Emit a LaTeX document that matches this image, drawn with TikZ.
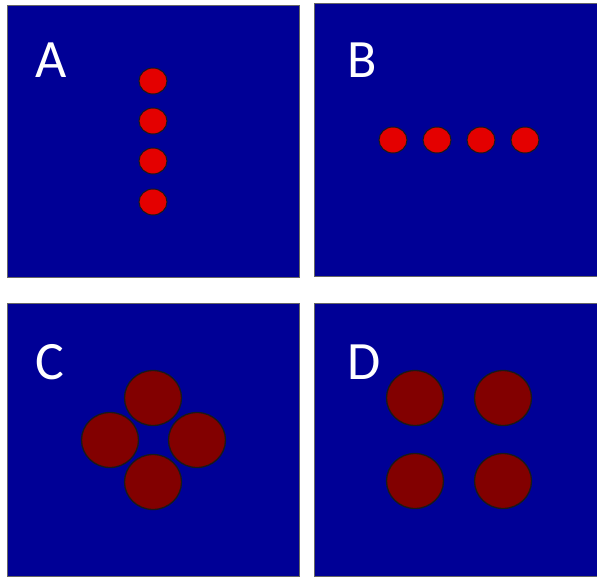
\documentclass[tikz,border=0pt]{standalone}
\usepackage{fontspec}
\setsansfont{Carlito}
\usepackage{xcolor}
\usepackage{tikz}
\usetikzlibrary{shapes.geometric,positioning}

\definecolor{panelblue}{RGB}{0,0,150}
\definecolor{dotred}{RGB}{228,0,0}
\definecolor{dotdark}{RGB}{130,0,0}

\begin{document}
\begin{tikzpicture}[
  x=1pt, y=-1pt,
  panel/.style={draw=black!60, line width=0.6pt, fill=panelblue},
  letter/.style={text=white, font=\sffamily\fontsize{54}{58}\selectfont, inner sep=0pt},
  small/.style={ellipse, draw=black!90, line width=1pt, fill=dotred,
                minimum width=28pt, minimum height=26pt, inner sep=0pt},
  big/.style={ellipse, draw=black!90, line width=1.3pt, fill=dotdark,
              minimum width=57pt, minimum height=55pt, inner sep=0pt}
]
  \useasboundingbox (0,0) rectangle (597,576);

  % panels
  \draw[panel] (7,5) rectangle (299,277);
  \draw[panel] (314,3) rectangle (597,276);
  \draw[panel] (7,303) rectangle (299,576);
  \draw[panel] (314,303) rectangle (597,576);

  % letters
  \node[letter] (labA) at (51,60) {A};
  \node[letter] (labB) at (362,60) {B};
  \node[letter] (labC) at (50,362) {C};
  \node[letter] (labD) at (364,362) {D};

  % A: vertical line
  \foreach \i/\y in {1/81, 2/121, 3/161, 4/202}
    \node[small] (a\i) at (153,\y) {};

  % B: horizontal line
  \foreach \i/\x in {1/393, 2/437, 3/481, 4/525}
    \node[small] (b\i) at (\x,140) {};

  % C: diamond of four
  \node[big] (ctop)    at (153,398) {};
  \node[big] (cleft)   at (110,440) {};
  \node[big] (cright)  at (197,440) {};
  \node[big] (cbottom) at (153,482) {};

  % D: square of four
  \node[big] (dtl) at (415,398) {};
  \node[big] (dtr) at (503,398) {};
  \node[big] (dbl) at (415,481) {};
  \node[big] (dbr) at (503,481) {};
\end{tikzpicture}
\end{document}
